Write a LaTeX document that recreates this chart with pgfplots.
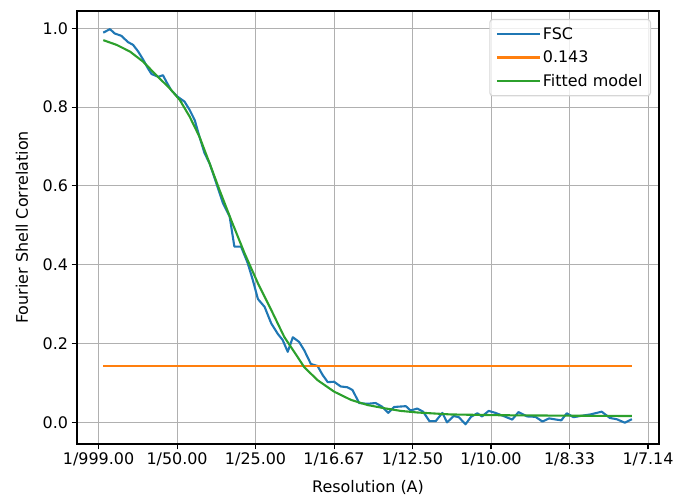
\documentclass[border=0pt]{standalone}
\usepackage{fontspec}
\setmainfont{DejaVu Sans}
\usepackage{pgfplots}
\pgfplotsset{compat=1.18}

\definecolor{mplblue}{HTML}{1F77B4}
\definecolor{mplorange}{HTML}{FF7F0E}
\definecolor{mplgreen}{HTML}{2CA02C}
\definecolor{gridgray}{HTML}{B0B0B0}
\definecolor{legendgray}{HTML}{D6D6D6}

\newcommand{\mplfont}{\fontsize{16}{19}\selectfont}

\begin{document}
\begin{tikzpicture}
\begin{axis}[
    scale only axis,
    width=582bp, height=433bp,
    xmin=-0.0055, xmax=0.1428,
    ymin=-0.055, ymax=1.044,
    axis line style={line width=1.1bp},
    grid=major,
    major grid style={color=gridgray, line width=1bp},
    tick align=outside,
    major tick length=5.4bp,
    tick style={black, line width=1.1bp},
    xtick={0,0.02,0.04,0.06,0.08,0.1,0.12,0.14},
    xticklabels={1/999.00,1/50.00,1/25.00,1/16.67,1/12.50,1/10.00,1/8.33,1/7.14},
    ytick={0,0.2,0.4,0.6,0.8,1.0},
    yticklabel style={/pgf/number format/.cd, fixed, fixed zerofill, precision=1},
    /pgf/number format/assume math mode=true,
    tick label style={font=\mplfont},
    xtick pos=bottom, ytick pos=left,
    xlabel={Resolution (A)},
    ylabel={Fourier Shell Correlation},
    every axis x label/.style={at={(axis description cs:0.5,0)}, anchor=center,
        yshift=-43bp, font=\mplfont},
    every axis y label/.style={at={(axis description cs:0,0.5)}, rotate=90,
        anchor=center, yshift=55bp, font=\mplfont},
    legend style={at={(axis description cs:1,1)}, anchor=north east,
        xshift=-8bp, yshift=-8bp, draw=legendgray, line width=1.1bp,
        rounded corners=3bp, fill=white, fill opacity=0.8, text opacity=1,
        font=\mplfont, inner xsep=6bp, inner ysep=6bp, row sep=6bp},
    legend cell align=left,
    legend image code/.code={\draw[#1] (0bp,0bp) -- (35bp,0bp); \path (35bp,0bp) -- (43bp,0bp);},
]
\addplot[mplblue, line width=2.1bp, line join=round] coordinates {
(0.0012,0.989) (0.0029,0.998) (0.0041,0.987) (0.0058,0.981) (0.0075,0.965)
(0.0088,0.958) (0.0101,0.941) (0.0114,0.920) (0.0126,0.898) (0.0135,0.884)
(0.0152,0.877) (0.0164,0.881) (0.0173,0.864) (0.0185,0.843) (0.0202,0.826)
(0.0219,0.814) (0.0232,0.793) (0.0245,0.767) (0.0257,0.725) (0.0270,0.683)
(0.0283,0.657) (0.0300,0.607) (0.0317,0.556) (0.0334,0.522) (0.0346,0.446)
(0.0363,0.446) (0.0380,0.404) (0.0393,0.361) (0.0406,0.313) (0.0423,0.293)
(0.0440,0.251) (0.0457,0.224) (0.0469,0.209) (0.0482,0.179) (0.0495,0.216)
(0.0511,0.204) (0.0524,0.183) (0.0541,0.148) (0.0558,0.143) (0.0571,0.120)
(0.0584,0.102) (0.0600,0.103) (0.0617,0.091) (0.0634,0.089) (0.0647,0.082)
(0.0664,0.049) (0.0685,0.047) (0.0706,0.049) (0.0722,0.040) (0.0738,0.024)
(0.0753,0.039) (0.0783,0.041) (0.0795,0.030) (0.0812,0.035) (0.0827,0.027)
(0.0843,0.003) (0.0859,0.003) (0.0876,0.024) (0.0888,0.000) (0.0905,0.016)
(0.0918,0.013) (0.0935,-0.005) (0.0949,0.014) (0.0965,0.023) (0.0977,0.015)
(0.0994,0.029) (0.1011,0.024) (0.1032,0.016) (0.1054,0.007) (0.1070,0.026)
(0.1092,0.015) (0.1113,0.014) (0.1131,0.002) (0.1148,0.010) (0.1166,0.007)
(0.1179,0.005) (0.1193,0.023) (0.1210,0.013) (0.1227,0.016) (0.1253,0.020)
(0.1282,0.027) (0.1303,0.011) (0.1320,0.008) (0.1341,-0.001) (0.1359,0.008)
};
\addlegendentry{FSC}
\addplot[mplorange, line width=2.1bp] coordinates {(0.0012,0.143) (0.1359,0.143)};
\addlegendentry{0.143}
\addplot[mplgreen, line width=2.1bp, line join=round] coordinates {
(0.0012,0.970) (0.0046,0.958) (0.0080,0.941) (0.0114,0.915) (0.0147,0.881)
(0.0181,0.848) (0.0207,0.818) (0.0232,0.776) (0.0257,0.725) (0.0283,0.657)
(0.0308,0.590) (0.0338,0.513) (0.0372,0.429) (0.0406,0.353) (0.0440,0.285)
(0.0473,0.217) (0.0507,0.166) (0.0524,0.140) (0.0558,0.107) (0.0600,0.078)
(0.0643,0.057) (0.0685,0.044) (0.0727,0.036) (0.0770,0.029) (0.0812,0.025)
(0.0897,0.020) (0.1024,0.018) (0.1176,0.017) (0.1359,0.016)
};
\addlegendentry{Fitted model}
\end{axis}
\pgfresetboundingbox
\path ([xshift=-77bp,yshift=-54bp]current axis.south west) rectangle ([xshift=14bp,yshift=11bp]current axis.north east);
\end{tikzpicture}
\end{document}
